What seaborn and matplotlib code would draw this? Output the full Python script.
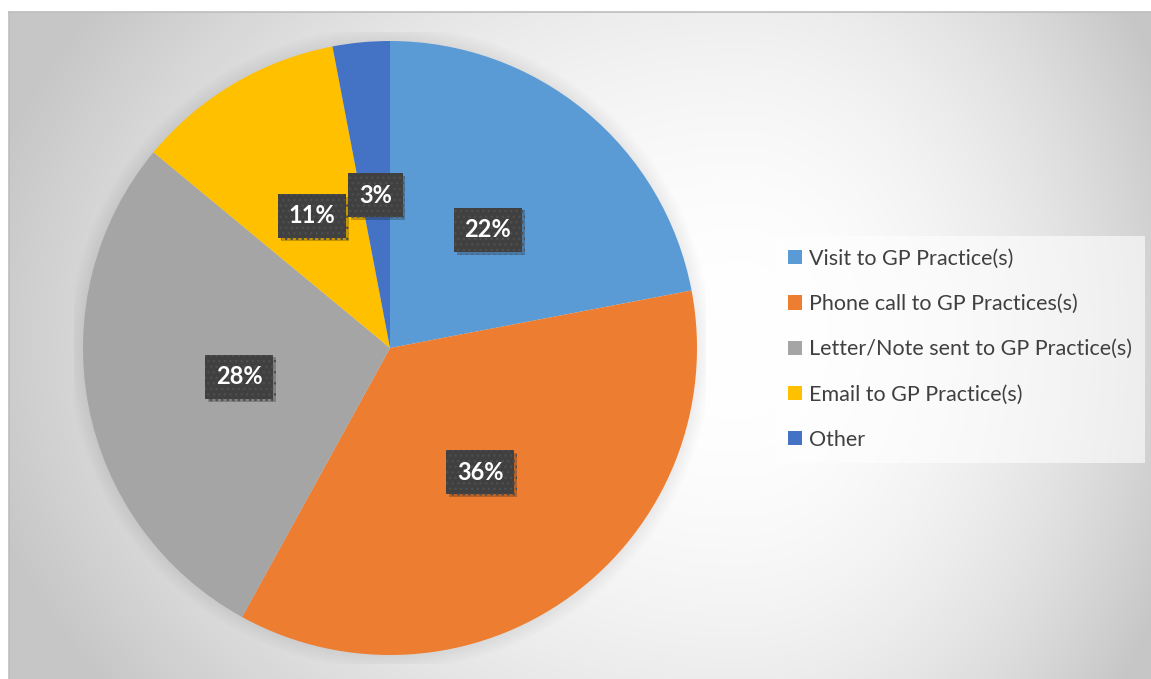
import numpy as np
import matplotlib
matplotlib.use("Agg")
import matplotlib.pyplot as plt
import matplotlib.patheffects as pe
from matplotlib.patches import Circle
import seaborn as sns

# Ways patients contacted their GP practice
categories = [
    "Visit to GP Practice(s)",
    "Phone call to GP Practices(s)",
    "Letter/Note sent to GP Practice(s)",
    "Email to GP Practice(s)",
    "Other",
]
shares = [22, 36, 28, 11, 3]
slice_colors = ["#5B9BD5", "#ED7D31", "#A5A5A5", "#FFC000", "#4472C4"]

sns.set_theme(style="white")
plt.rcParams["font.family"] = ["Lato", "DejaVu Sans"]
palette = sns.color_palette(slice_colors)

W, H = 1151, 679
fig = plt.figure(figsize=(W / 100, H / 100), dpi=100)
fig.patch.set_facecolor("white")

# backdrop panel: grey with a soft light spot right of the pie
bg = fig.add_axes([9 / W, 0, 1 - 9 / W, 1 - 12 / H], zorder=0)
pw, ph = W - 9, H - 12
xx, yy = np.meshgrid(np.arange(pw) + 9, np.arange(ph) + 12)
cx, cy = 740, 340
sx = np.where(xx > cx, 447.0, 746.0)
sy = 573.0
d2 = ((xx - cx) / sx) ** 2 + ((yy - cy) / sy) ** 2
shade = (255 - np.minimum(52 * d2, 57)) / 255
bg.imshow(np.dstack([shade] * 3), extent=(0, 1, 0, 1), aspect="auto",
          origin="upper", interpolation="bilinear")
bg.set_xticks([])
bg.set_yticks([])
for s in ["right", "bottom"]:
    bg.spines[s].set_visible(False)
for s in ["left", "top"]:
    bg.spines[s].set_color("#BDBDBD")
    bg.spines[s].set_linewidth(1.2)

# pie axes
R, pcx, pcy = 307, 390, 348
lim = 1.03
half = R * lim
ax = fig.add_axes([(pcx - half) / W, (H - pcy - half) / H, 2 * half / W, 2 * half / H],
                  zorder=1)
ax.patch.set_alpha(0)

wedges, texts, autotexts = ax.pie(
    shares,
    colors=palette,
    startangle=90,
    counterclock=False,
    autopct="%1.0f%%",
    pctdistance=0.5,
    wedgeprops=dict(linewidth=0),
)
ax.set_xlim(-lim, lim)
ax.set_ylim(-lim, lim)

# soft halo under the pie
for k in range(8):
    ax.add_patch(Circle((0, 0), 1 + 0.006 * (k + 1), fc="black", alpha=0.008,
                        lw=0, zorder=0))

for t in autotexts:
    t.set_color("white")
    t.set_fontweight("bold")
    t.set_fontsize(17)
    t.set_bbox(dict(boxstyle="square,pad=0.45", fc="#404040", ec="#4e4e4e",
                    lw=0, hatch="..."))
    t.get_bbox_patch().set_path_effects([
        pe.SimplePatchShadow(offset=(2, -2), shadow_rgbFace="black", alpha=0.22),
        pe.Normal(),
    ])

leg = fig.legend(
    wedges, categories,
    loc="upper left", bbox_to_anchor=(775 / W, 1 - 236 / H),
    frameon=True, fancybox=False, facecolor="white", edgecolor="none",
    framealpha=0.6, fontsize=15.5, handlelength=0.64, handleheight=0.64,
    handletextpad=0.32, labelspacing=1.17, borderpad=0.6, borderaxespad=0,
    labelcolor="#404040",
)

fig.savefig("out.png", dpi=100)
